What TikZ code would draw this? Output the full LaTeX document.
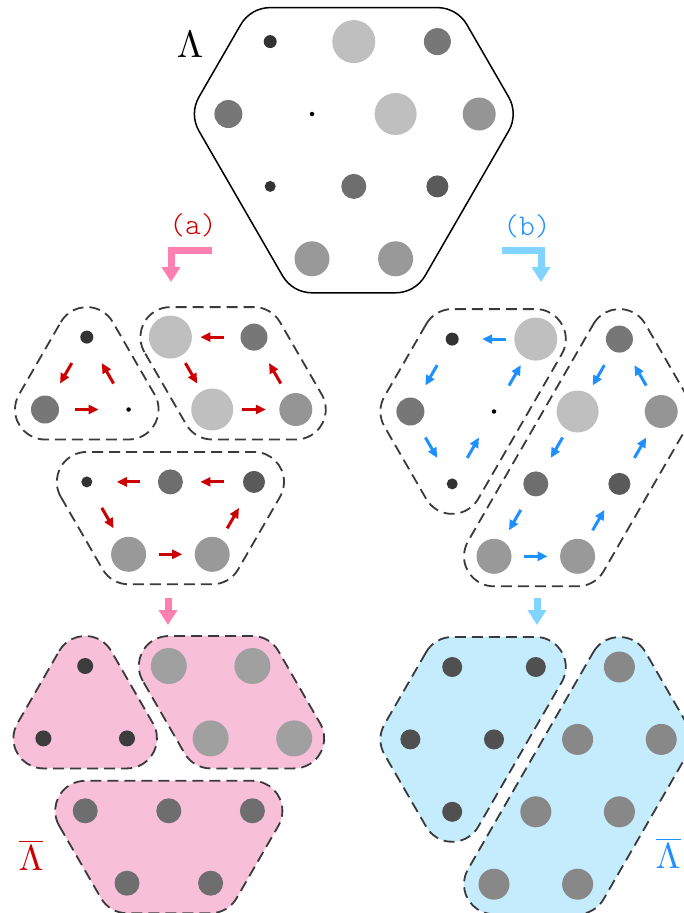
\documentclass[tikz,border=0pt]{standalone}
\usepackage{tikz}
\usetikzlibrary{arrows.meta,calc,backgrounds}
\definecolor{ink}     {HTML}{000000}
\definecolor{dashink} {HTML}{3A3A3A}
\definecolor{redbg}   {HTML}{F8BFD9}
\definecolor{bluebg}  {HTML}{C4ECFC}
\definecolor{arrred}  {HTML}{CC0000}
\definecolor{arrblue} {HTML}{1E90FF}
\definecolor{stepred} {HTML}{FF80B0}
\definecolor{stepblue}{HTML}{80D4FF}
\definecolor{gA}{HTML}{333333}
\definecolor{gB}{HTML}{777777}
\definecolor{gC}{HTML}{BFBFBF}
\definecolor{gD}{HTML}{959595}
\definecolor{gE}{HTML}{6E6E6E}
\definecolor{gF}{HTML}{5A5A5A}
\definecolor{gG}{HTML}{999999}
\definecolor{bA}{HTML}{3C3C3C}
\definecolor{bB}{HTML}{A0A0A0}
\definecolor{bC}{HTML}{6E6E6E}
\definecolor{bD}{HTML}{505050}
\definecolor{bE}{HTML}{888888}
\tikzset{
  site/.style n args={2}{circle, fill=#1, inner sep=0pt, minimum size=#2},
  hullline/.style={draw=ink, line width=1.5pt},
  cellbox/.style ={draw=dashink, line width=1.8pt, dash pattern=on 11pt off 6pt},
  redarr/.style  ={-{Triangle[length=10pt,width=9pt]}, line width=3pt, color=arrred,
                   shorten <=30pt, shorten >=30pt},
  bluearr/.style ={-{Triangle[length=10pt,width=9pt]}, line width=3pt, color=arrblue,
                   shorten <=30pt, shorten >=30pt},
  steparr/.style ={-{Triangle[length=15pt,width=18pt]}, line width=7pt},
  caselabel/.style={font=\ttfamily\fontseries{l}\fontsize{30}{32}\selectfont},
}
% the twelve sites of the patch, in lattice units
\newcommand{\fullsites}[1]{%
  \foreach \k/\i/\j/\col/\sz in {1/-1/-1/gA/13pt, 2/1/-1/gC/43pt, 3/3/-1/gB/27pt,
      4/-2/0/gB/28pt, 5/0/0/black/4.5pt, 6/2/0/gC/42pt, 7/4/0/gD/33pt,
      8/-1/1/gA/11pt, 9/1/1/gE/25pt, 10/3/1/gF/22pt, 11/0/2/gG/35pt, 12/2/2/gG/35pt}
    \node[site={\col}{\sz}] (#1\k) at (\i,\j) {};}
% rounded hulls round groups of sites
\newcommand{\hulltri}[2]{%
  \path[#2] ($(#11.center)+(210:30)$) arc[start angle=210,end angle=330,radius=30]
    -- ($(#15.center)+(-30:30)$) arc[start angle=-30,end angle=90,radius=30]
    -- ($(#14.center)+(90:30)$) arc[start angle=90,end angle=210,radius=30] -- cycle;}
\newcommand{\hullpar}[2]{%
  \path[#2] ($(#12.center)+(150:30)$) arc[start angle=150,end angle=270,radius=30]
    -- ($(#13.center)+(-90:30)$) arc[start angle=-90,end angle=-30,radius=30]
    -- ($(#17.center)+(-30:30)$) arc[start angle=-30,end angle=90,radius=30]
    -- ($(#16.center)+(90:30)$) arc[start angle=90,end angle=150,radius=30] -- cycle;}
\newcommand{\hulltrap}[2]{%
  \path[#2] ($(#18.center)+(150:30)$) arc[start angle=150,end angle=270,radius=30]
    -- ($(#110.center)+(-90:30)$) arc[start angle=-90,end angle=30,radius=30]
    -- ($(#112.center)+(30:30)$) arc[start angle=30,end angle=90,radius=30]
    -- ($(#111.center)+(90:30)$) arc[start angle=90,end angle=150,radius=30] -- cycle;}
\newcommand{\hullleft}[2]{%
  \path[#2] ($(#11.center)+(210:30)$) arc[start angle=210,end angle=270,radius=30]
    -- ($(#12.center)+(-90:30)$) arc[start angle=-90,end angle=30,radius=30]
    -- ($(#18.center)+(30:30)$) arc[start angle=30,end angle=150,radius=30]
    -- ($(#14.center)+(150:30)$) arc[start angle=150,end angle=210,radius=30] -- cycle;}
\newcommand{\hullright}[2]{%
  \path[#2] ($(#13.center)+(210:30)$) arc[start angle=210,end angle=330,radius=30]
    -- ($(#17.center)+(-30:30)$) arc[start angle=-30,end angle=30,radius=30]
    -- ($(#112.center)+(30:30)$) arc[start angle=30,end angle=90,radius=30]
    -- ($(#111.center)+(90:30)$) arc[start angle=90,end angle=210,radius=30] -- cycle;}

\begin{document}
\begin{tikzpicture}[x=1pt,y=-1pt]
    \useasboundingbox (0,0) rectangle (684,913);

    % Full patch
    \begin{scope}[shift={(312,114)},x=41.8pt,y=-72.4pt]
      \fullsites{t}
    \end{scope}
    \path[hullline] ($(t1.center)+(210:34)$) arc[start angle=210,end angle=270,radius=34]
      -- ($(t3.center)+(-90:34)$) arc[start angle=-90,end angle=-30,radius=34]
      -- ($(t7.center)+(-30:34)$) arc[start angle=-30,end angle=30,radius=34]
      -- ($(t12.center)+(30:34)$) arc[start angle=30,end angle=90,radius=34]
      -- ($(t11.center)+(90:34)$) arc[start angle=90,end angle=150,radius=34]
      -- ($(t4.center)+(150:34)$) arc[start angle=150,end angle=210,radius=34] -- cycle;
    \node (lamtop) at (190,45) {\scalebox{3.8}{$\Lambda$}};

    % Labels and bent arrows
    \node[caselabel,text=arrred]  (laba) at (193,225) {(a)};
    \node[caselabel,text=arrblue] (labb) at (527,226) {(b)};
    \coordinate (bendA) at (212,250);
    \coordinate (tipA)  at (171,282);
    \coordinate (bendB) at (502,250);
    \coordinate (tipB)  at (541,282);
    \draw[steparr,stepred]  (bendA) -| (tipA);
    \draw[steparr,stepblue] (bendB) -| (tipB);

    % Split (a)
    \begin{scope}[shift={(128.6,409.5)},x=41.8pt,y=-72.4pt]
      \fullsites{ma}
    \end{scope}
    \foreach \p/\q in {1/4,4/5,5/1,3/2,2/6,6/7,7/3,10/9,9/8,8/11,11/12,12/10}
      \draw[redarr] (ma\p.center) -- (ma\q.center);
    \hulltri{ma}{cellbox}
    \hullpar{ma}{cellbox}
    \hulltrap{ma}{cellbox}

    % Split (b)
    \begin{scope}[shift={(494,411.5)},x=41.8pt,y=-72.4pt]
      \fullsites{mb}
    \end{scope}
    \foreach \p/\q in {2/1,1/4,4/8,8/5,5/2,3/6,6/9,9/11,11/12,12/10,10/7,7/3}
      \draw[bluearr] (mb\p.center) -- (mb\q.center);
    \hullleft{mb}{cellbox}
    \hullright{mb}{cellbox}

    \coordinate (dropA) at (168,598);
    \coordinate (landA) at (168,625);
    \coordinate (dropB) at (537,598);
    \coordinate (landB) at (537,625);
    \draw[steparr,stepred]  (dropA) -- (landA);
    \draw[steparr,stepblue] (dropB) -- (landB);

    % Averaged (a)
    \begin{scope}[shift={(127,738.4)},x=41.8pt,y=-72.4pt]
      \foreach \k/\i/\j in {1/-1/-1,4/-2/0,5/0/0}
        \node[site={bA}{16pt}] (ba\k) at (\i,\j) {};
      \foreach \k/\i/\j in {2/1/-1,3/3/-1,6/2/0,7/4/0}
        \node[site={bB}{36pt}] (ba\k) at (\i,\j) {};
      \foreach \k/\i/\j in {8/-1/1,9/1/1,10/3/1,11/0/2,12/2/2}
        \node[site={bC}{25pt}] (ba\k) at (\i,\j) {};
    \end{scope}
    \begin{scope}[on background layer]
      \hulltri{ba}{cellbox,fill=redbg}
      \hullpar{ba}{cellbox,fill=redbg}
      \hulltrap{ba}{cellbox,fill=redbg}
    \end{scope}
    \node[text=arrred] (lamred) at (31,855) {\scalebox{3.6}{$\overline{\Lambda}$}};

    % Averaged (b)
    \begin{scope}[shift={(494,739.4)},x=41.8pt,y=-72.4pt]
      \foreach \k/\i/\j in {1/-1/-1,2/1/-1,4/-2/0,5/0/0,8/-1/1}
        \node[site={bD}{20pt}] (bb\k) at (\i,\j) {};
      \foreach \k/\i/\j in {3/3/-1,6/2/0,7/4/0,9/1/1,10/3/1,11/0/2,12/2/2}
        \node[site={bE}{31pt}] (bb\k) at (\i,\j) {};
    \end{scope}
    \begin{scope}[on background layer]
      \hullleft{bb}{cellbox,fill=bluebg}
      \hullright{bb}{cellbox,fill=bluebg}
    \end{scope}
    \node[text=arrblue] (lamblue) at (668,853) {\scalebox{3.6}{$\overline{\Lambda}$}};
\end{tikzpicture}
\end{document}
